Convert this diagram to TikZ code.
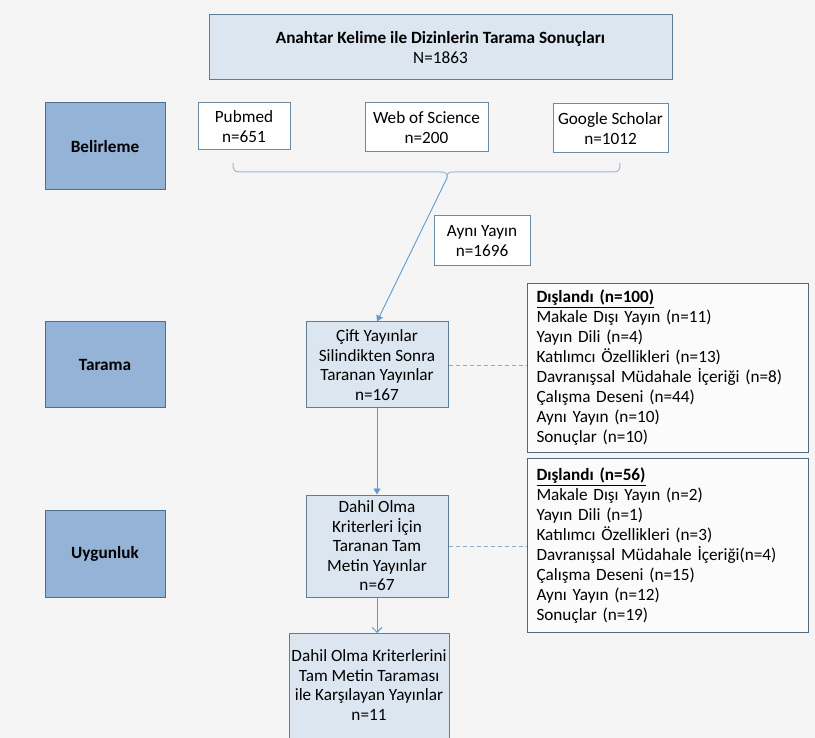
\documentclass[tikz,border=0pt]{standalone}
\usepackage{fontspec}
\setmainfont{Carlito}
\usetikzlibrary{arrows.meta}
\definecolor{bgc}{HTML}{F5F5F5}
\definecolor{lightfill}{HTML}{DCE6F1}
\definecolor{darkfill}{HTML}{95B3D7}
\definecolor{lightborder}{HTML}{5F7E95}
\definecolor{darkborder}{HTML}{4D6E8C}
\definecolor{whiteborder}{HTML}{6C8AA2}
\definecolor{arrowc}{HTML}{5F9BD0}
\definecolor{bracec}{HTML}{A3B6C8}
\definecolor{dashc}{HTML}{8AAAD0}
\definecolor{exborder}{HTML}{4F6A7E}
\tikzset{
  basebox/.style={draw, line width=1pt, inner sep=1pt, align=center,
    font=\fontsize{17.2}{19.5}\selectfont},
  lightbox/.style={basebox, fill=lightfill, draw=lightborder},
  darkbox/.style={basebox, fill=darkfill, draw=darkborder, font=\fontsize{17.2}{19.5}\selectfont\bfseries},
  whitebox/.style={basebox, fill=white, draw=whiteborder},
  exbox/.style={draw=exborder, fill=white!60!bgc, line width=1pt, inner xsep=9pt, inner ysep=4pt,
    align=left, text width=263pt, font=\fontsize{17.2}{20}\selectfont},
  flowarrow/.style={draw=arrowc, line width=0.9pt, -{Triangle[width=7pt,length=6pt]}},
  openarrow/.style={draw=arrowc, line width=0.9pt, -{Straight Barb[width=10pt,length=5pt]}},
  bracket/.style={draw=bracec, line width=1pt},
  dashline/.style={draw=dashc, line width=0.9pt, dash pattern=on 4pt off 3pt},
}
\begin{document}
\begin{tikzpicture}[x=1pt,y=-1pt]
\useasboundingbox (0,0) rectangle (815,738);
\fill[bgc] (0,0) rectangle (815,738);

\node[lightbox, minimum width=463pt, minimum height=65pt] (top) at (440.5,47.5)
  {\textbf{Anahtar Kelime ile Dizinlerin Tarama Sonuçları}\\N=1863};

\node[darkbox, minimum width=120pt, minimum height=87pt] (bel) at (105,146.5) {Belirleme};
\node[whitebox, minimum width=92pt, minimum height=47pt] (pub) at (244,126.5) {Pubmed\\n=651};
\node[whitebox, minimum width=123pt, minimum height=49pt] (wos) at (426.5,127.5) {Web of Science\\n=200};
\node[whitebox, minimum width=115pt, minimum height=49pt] (gs) at (610.5,128.5) {Google Scholar\\n=1012};

\coordinate (bt) at (447,178);
\draw[bracket] (233,163) .. controls (233,170) and (234,172) .. (240,172) -- (440,172)
  .. controls (446,172) and (447,173) .. (bt);
\draw[bracket] (bt) .. controls (447,173) and (448,172) .. (454,172) -- (613,172)
  .. controls (619,172) and (620,170) .. (620,163);

\node[whitebox, minimum width=96pt, minimum height=50pt] (ayni) at (482,241) {Aynı Yayın\\n=1696};

\node[darkbox, minimum width=120pt, minimum height=86pt] (tar) at (105,365) {Tarama};
\node[lightbox, minimum width=142pt, minimum height=86pt] (cift) at (377,365)
  {Çift Yayınlar\\Silindikten Sonra\\Taranan Yayınlar\\n=167};

\node[exbox, anchor=north west, minimum height=169pt] (ex1) at (527,283)
  {\underline{\textbf{Dışlandı (n=100)}}\\
   Makale Dışı Yayın (n=11)\\
   Yayın Dili (n=4)\\
   Katılımcı Özellikleri (n=13)\\
   Davranışsal Müdahale İçeriği (n=8)\\
   Çalışma Deseni (n=44)\\
   Aynı Yayın (n=10)\\
   Sonuçlar (n=10)};

\node[exbox, anchor=north west, minimum height=174pt] (ex2) at (527,458)
  {\underline{\textbf{Dışlandı (n=56)}}\\
   Makale Dışı Yayın (n=2)\\
   Yayın Dili (n=1)\\
   Katılımcı Özellikleri (n=3)\\
   Davranışsal Müdahale İçeriği(n=4)\\
   Çalışma Deseni (n=15)\\
   Aynı Yayın (n=12)\\
   Sonuçlar (n=19)};

\node[darkbox, minimum width=120pt, minimum height=87pt] (uyg) at (105,553.5) {Uygunluk};
\node[lightbox, minimum width=142pt, minimum height=102pt] (dahil) at (377,546)
  {Dahil Olma\\Kriterleri İçin\\Taranan Tam\\Metin Yayınlar\\n=67};

\node[lightbox, minimum width=160pt, minimum height=127pt, anchor=north] (son) at (369,633)
  {\\[2pt]Dahil Olma Kriterlerini\\Tam Metin Taraması\\ile Karşılayan Yayınlar\\n=11\\[14pt]};

\draw[flowarrow] (bt) -- (cift.north);
\draw[flowarrow] (cift.south) -- (dahil.north);
\draw[openarrow] (dahil.south) -- (dahil.south |- son.north);
\draw[dashline] (cift.east) -- (cift.east -| ex1.west);
\draw[dashline] (dahil.east) -- (dahil.east -| ex2.west);
\end{tikzpicture}
\end{document}
